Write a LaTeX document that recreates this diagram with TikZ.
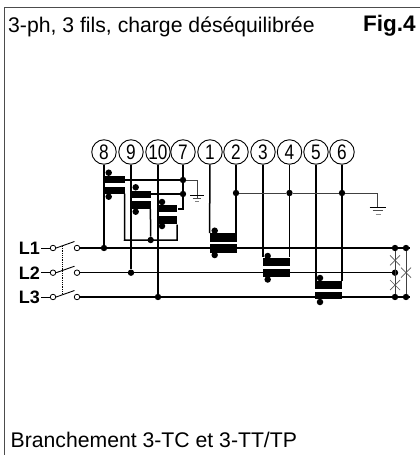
\documentclass[tikz,border=0pt]{standalone}
\usepackage{fontspec}
\setmainfont{Liberation Sans}
\begin{document}
\begin{tikzpicture}[x=1pt,y=-1pt,
  term/.style={circle,draw,line width=.9pt,minimum size=24.5pt,inner sep=0pt,fill=white,font=\fontsize{21}{21}\selectfont},
  bar/.style={fill=black,draw=none,inner sep=0pt},
  wire/.style={line width=1.5pt},
  thin wire/.style={line width=1pt,draw=black!75},
  jdot/.style={circle,fill=black,inner sep=0pt,minimum size=6.4pt},
  pol/.style={circle,fill=black,inner sep=0pt,minimum size=6.5pt},
  open/.style={circle,draw,line width=.8pt,inner sep=0pt,minimum size=5.5pt,fill=white},
  lab/.style={font=\fontsize{18}{18}\selectfont\bfseries,anchor=base east,inner sep=0pt},
  txt/.style={font=\fontsize{21.2}{21.2}\selectfont,anchor=base west,inner sep=0pt}]
\useasboundingbox (0,0) rectangle (420,455);
% frame
\draw[line width=1pt,draw=black!70] (4.5,455) -- (4.5,7.5) -- (420,7.5);
\node[txt] (title) at (8,32) {3-ph, 3 fils, charge déséquilibrée};
\node[txt,font=\fontsize{22.5}{22.5}\selectfont\bfseries] (fig) at (363,31) {Fig.4};
\node[txt] (caption) at (10.5,447) {Branchement 3-TC et 3-TT/TP};

% bus end coordinates
\coordinate (e1) at (410,248);
\coordinate (e2) at (395,272.7);
\coordinate (e3) at (410,297);

% terminals
\foreach \n/\t/\x in {t8/8/104,t9/9/131,t10/10/158,t7/7/183,t1/1/210,t2/2/236,t3/3/263,t4/4/289.5,t5/5/316,t6/6/342}
  \node[term] (\n) at (\x,152) {\scalebox{.82}[1]{\t}};

% switch
\foreach \i/\y/\name in {1/248/L1,2/272.7/L2,3/297/L3}{
  \node[lab] (lab\i) at (40,\y+6.3) {\name};
  \coordinate (st\i) at (41,\y);
  \node[open] (a\i) at (53,\y) {};
  \node[open] (b\i) at (77,\y) {};
  \coordinate (tip\i) at (74.5,\y-6.5);
  \draw[line width=.9pt] (st\i) -- (a\i);
  \draw[line width=.9pt] (a\i.east) -- (tip\i);
}
\draw[line width=.8pt,densely dotted] (62.5,246) -- (62.5,293);

% phase buses
\node[jdot] (j11) at (104,248) {};
\node[jdot] (j21) at (131,272.7) {};
\node[jdot] (j31) at (158,297) {};
\node[jdot] (r1a) at (395,248) {};
\node[jdot] (r1b) at (406,248) {};
\node[jdot] (r2a) at (395,272.7) {};
\node[jdot] (r3a) at (395,297) {};
\node[jdot] (r3b) at (406,297) {};
\draw[wire] (b1.east) -- (e1);
\draw[wire] (b2.east) -- (e2);
\draw[wire] (b3.east) -- (e3);

% CT bars
\node[bar,minimum width=21pt,minimum height=7pt] (c8u) at (114.5,179.3) {};
\node[bar,minimum width=21pt,minimum height=7pt] (c8l) at (114.5,190) {};
\node[bar,minimum width=20pt,minimum height=7.6pt] (c9u) at (140.7,194.5) {};
\node[bar,minimum width=20pt,minimum height=8pt] (c9l) at (140.7,205) {};
\node[bar,minimum width=20pt,minimum height=7pt] (c10u) at (167.3,208.8) {};
\node[bar,minimum width=20pt,minimum height=8.6pt] (c10l) at (167.3,220) {};
% CT wires
\node[jdot] (j7a) at (183,180) {};
\node[jdot] (j7b) at (183,194) {};
\node[jdot] (jret) at (150.7,240) {};
\coordinate (k7) at (183,209);
\coordinate (g1) at (197,180);
\coordinate (g1b) at (197,197.5);
\coordinate (r8) at (124.5,240);
\coordinate (r10) at (177,240);
\draw[wire] (t8) -- (j11);
\draw[wire] (t9) -- (j21);
\draw[wire] (t10) -- (j31);
\draw[wire] (t7) -- (k7) -- (c10u.east |- k7);
\draw[wire] (c8u.east |- j7a) -- (j7a);
\draw[wire] (c9u.east |- j7b) -- (j7b);
\draw[thin wire] (j7a) -- (g1) -- (g1b);
\draw[wire] (c8l.south east) ++(-.5,0) -- (r8) -- (r10) -- ([xshift=-.5pt]c10l.south east);
\draw[wire] ([xshift=-.5pt]c9l.south east) -- (jret);
% polarity dots
\foreach \n/\x/\y in {p8a/108.7/172.7,p8b/108.7/196.7,p9a/135.7/187.3,p9b/135.7/211.7,p10a/162/202,p10b/162/226,p1a/214.7/230.7,p1b/214.7/255,p2a/267.7/256,p2b/267.7/279.5,p3a/320/278,p3b/320/302}
  \node[pol] (\n) at (\x,\y) {};

% VT bars
\node[bar,minimum width=27pt,minimum height=8.4pt] (v1u) at (223.3,237.5) {};
\node[bar,minimum width=27pt,minimum height=8.7pt] (v1l) at (223.3,248.3) {};
\node[bar,minimum width=27pt,minimum height=8.4pt] (v2u) at (276.3,261.7) {};
\node[bar,minimum width=27pt,minimum height=8.4pt] (v2l) at (276.3,272.7) {};
\node[bar,minimum width=27pt,minimum height=8pt] (v3u) at (328.5,284.7) {};
\node[bar,minimum width=27pt,minimum height=7.6pt] (v3l) at (328.5,295.5) {};
\node[jdot] (j2) at (236,193) {};
\node[jdot] (j4) at (289.5,193) {};
\node[jdot] (j6) at (342,193) {};
\coordinate (g2) at (377.7,193);
\coordinate (g2b) at (377.7,207);
\draw[wire] (t1) -- (v1u.north west);
\draw[wire] (t2) -- (t2 |- v1u.north);
\draw[wire] (t3) -- (t3 |- v2u.north);
\draw[wire] (t4) -- (t4 |- v2u.north);
\draw[wire] (t5) -- (t5 |- v3u.north);
\draw[wire] (t6) -- (t6 |- v3u.north);
\draw[thin wire] (j2) -- (j4) -- (j6) -- (g2) -- (g2b);

% grounds
\draw[line width=1pt] (190,195.7) -- (204,195.7);
\draw[line width=.8pt,draw=black!70] (192.5,198.7) -- (201,198.7);
\draw[line width=.8pt,draw=black!50] (195,201.7) -- (198.5,201.7);
\draw[line width=1pt] (369.5,207.3) -- (386,207.3);
\draw[line width=.8pt,draw=black!70] (372.5,210.7) -- (383,210.7);
\draw[line width=1pt,draw=black!45] (375.5,214) -- (380.5,214);

% right links
\draw[thin wire] (r1a) -- (r3a);
\draw[thin wire] (r1b) -- (r3b);
\foreach \x/\y in {395/260.3,395/285,406/272.7}{
  \draw[line width=.7pt,draw=black!65] (\x-5,\y-5) -- (\x+5,\y+5);
  \draw[line width=.7pt,draw=black!65] (\x-5,\y+5) -- (\x+5,\y-5);
}
\end{tikzpicture}
\end{document}
